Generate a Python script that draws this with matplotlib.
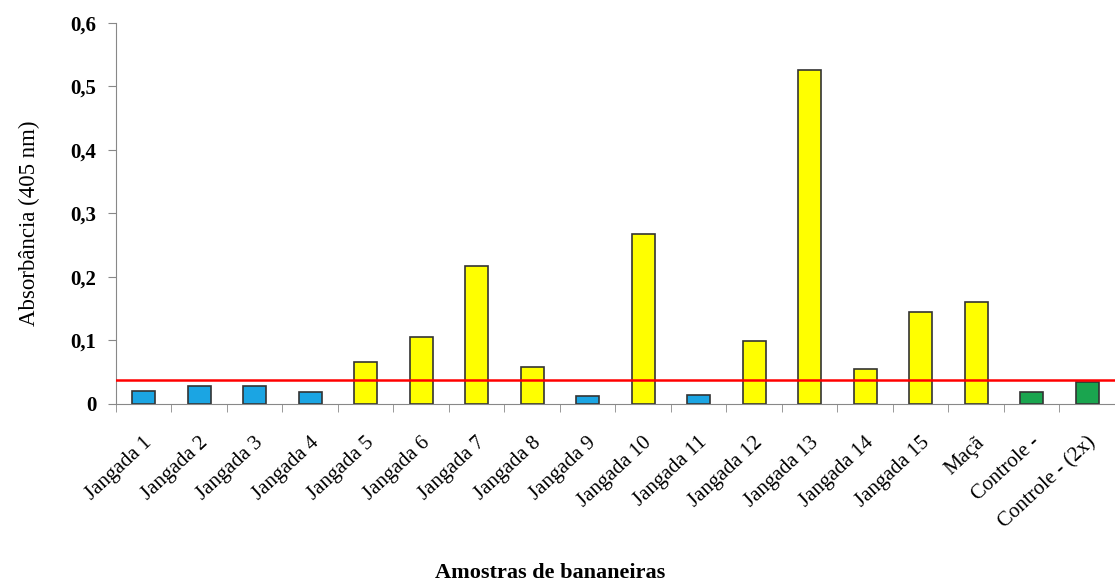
import matplotlib
matplotlib.use("Agg")
import matplotlib.pyplot as plt
import matplotlib.transforms as mtransforms
import numpy as np

categories = ["Jangada 1", "Jangada 2", "Jangada 3", "Jangada 4", "Jangada 5",
              "Jangada 6", "Jangada 7", "Jangada 8", "Jangada 9", "Jangada 10",
              "Jangada 11", "Jangada 12", "Jangada 13", "Jangada 14", "Jangada 15",
              "Maçã", "Controle -", "Controle - (2x)"]
values = [0.020, 0.028, 0.028, 0.019, 0.066, 0.105, 0.217, 0.058, 0.013, 0.268,
          0.014, 0.099, 0.526, 0.054, 0.145, 0.160, 0.018, 0.035]
groups = ["neg", "neg", "neg", "neg", "pos", "pos", "pos", "pos", "neg", "pos",
          "neg", "pos", "pos", "pos", "pos", "pos", "ctrl", "ctrl"]
cutoff = 0.037
yticks = [0, 0.1, 0.2, 0.3, 0.4, 0.5, 0.6]
ytick_labels = ["0", "0,1", "0,2", "0,3", "0,4", "0,5", "0,6"]

color_map = {"neg": "#1BA5E3", "pos": "#FFFF00", "ctrl": "#1AA54F"}
colors = [color_map[g] for g in groups]

plt.rcParams['font.family'] = ['Liberation Serif', 'DejaVu Serif']

fig = plt.figure(figsize=(11.15, 5.86), dpi=100)
ax = fig.add_axes([0.104, 0.311, 0.896, 0.650])

x = np.arange(len(categories))
ax.bar(x, values, width=0.42, color=colors, edgecolor="#333333", linewidth=1.2, zorder=2)
ax.axhline(cutoff, color="#FF0000", linewidth=1.8, zorder=3)

ax.set_xlim(-0.5, len(categories) - 0.5)
ax.set_ylim(0, 0.6)
ax.set_yticks(yticks)
ax.set_yticklabels(ytick_labels, fontsize=15, fontweight="bold")

ax.set_xticks(x)
ax.set_xticklabels(categories, rotation=43, ha="right", va="center",
                   rotation_mode="anchor", fontsize=15)
ax.tick_params(axis="x", length=0, pad=26)
offset = mtransforms.ScaledTranslation(6 / 100, 0, fig.dpi_scale_trans)
for lbl in ax.get_xticklabels():
    lbl.set_transform(lbl.get_transform() + offset)
ax.set_xticks(np.arange(-0.5, len(categories), 1.0), minor=True)
ax.tick_params(axis="x", which="minor", length=6, color="#888888", direction="out")
ax.tick_params(axis="y", length=6, color="#888888", direction="out", pad=8)

for s in ["top", "right"]:
    ax.spines[s].set_visible(False)
for s in ["left", "bottom"]:
    ax.spines[s].set_color("#888888")

fig.text(29 / 1115, 1 - 223 / 586, "Absorbância (405 nm)", rotation=90,
         ha="center", va="center", fontsize=16.5)
fig.text(550 / 1115, 1 - 578 / 586, "Amostras de bananeiras", ha="center",
         va="baseline", fontsize=16, fontweight="bold")

fig.savefig("out.png", dpi=100)
